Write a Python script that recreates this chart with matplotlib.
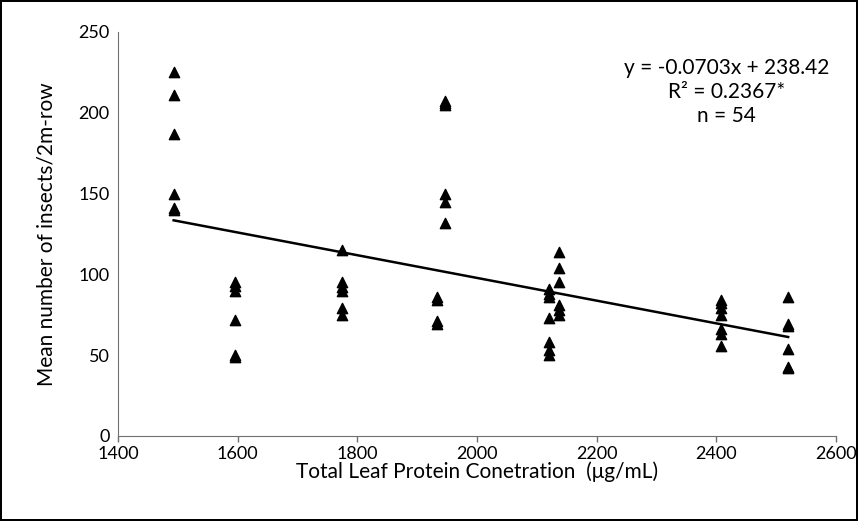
import numpy as np
import matplotlib.pyplot as plt

plt.rcParams['font.family'] = ['Lato', 'DejaVu Sans']

# protein concentration groups and insect counts
protein = ([1493] * 6 + [1595] * 6 + [1775] * 6 + [1933] * 4 + [1947] * 6
           + [2120] * 7 + [2137] * 6 + [2407] * 7 + [2520] * 6)
insects = [225, 211, 187, 150, 141, 140,
           95, 93, 90, 72, 50, 49,
           115, 95, 92, 90, 79, 75,
           86, 84, 71, 69,
           207, 206, 205, 150, 145, 132,
           91, 88, 86, 73, 58, 53, 50,
           114, 104, 95, 81, 78, 75,
           84, 82, 79, 75, 66, 63, 56,
           86, 69, 68, 54, 43, 42]

slope = -0.0703
intercept = 238.42
eq_text = "y = -0.0703x + 238.42\nR² = 0.2367*\nn = 54"

fig = plt.figure(figsize=(8.58, 5.21), dpi=100)
fig.patch.set_edgecolor('black')
fig.patch.set_linewidth(1.5)
ax = fig.add_axes([118 / 858, 1 - 436 / 521, (836 - 118) / 858, (436 - 32) / 521])

ax.scatter(protein, insects, marker='^', s=55, color='black', zorder=3)

xs = np.array([min(protein), max(protein)])
ax.plot(xs, slope * xs + intercept, color='black', lw=1.8)

ax.set_xlim(1400, 2600)
ax.set_ylim(0, 250)
ax.set_xticks(range(1400, 2601, 200))
ax.set_yticks(range(0, 251, 50))
ax.spines['top'].set_visible(False)
ax.spines['right'].set_visible(False)
ax.spines['left'].set_color('#707070')
ax.spines['bottom'].set_color('#707070')
ax.tick_params(labelsize=13, color='#707070', length=4, width=1)
ax.tick_params(axis='x', pad=3)
ax.tick_params(axis='y', length=0, pad=6)

ax.set_xlabel("Total Leaf Protein Conetration  (μg/mL)", fontsize=15, labelpad=0)
ax.set_ylabel("Mean number of insects/2m-row", fontsize=15, labelpad=16)

ax.text(0.848, 0.935, eq_text, transform=ax.transAxes, ha='center', va='top',
        fontsize=15, linespacing=1.25)

fig.savefig("out.png", dpi=100)
